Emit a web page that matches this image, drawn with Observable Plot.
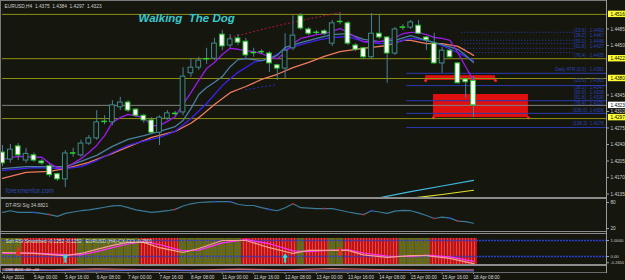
<!DOCTYPE html>
<html><head><meta charset="utf-8">
<script src="https://cdn.jsdelivr.net/npm/d3@7"></script>
<script src="https://cdn.jsdelivr.net/npm/@observablehq/plot@0.6"></script>
<style>
html,body{margin:0;padding:0;background:#15170f;overflow:hidden}
#wrap{position:relative;width:625px;height:280px;overflow:hidden;background:#15170f}
#wrap svg{position:absolute;left:0;overflow:visible}
.sep{position:absolute;background:#8c8c8c}
</style></head><body><div id="wrap"></div>
<script>
// ---------------- DATA ----------------
const symbolTitle = "EURUSD,H4  1.4375  1.4384  1.4297  1.4323";
const chartTitle = "Walking  The Dog";
const watermark = "forexmentor.com";
const openP  = [1.4223,1.4208,1.4236,1.4206,1.4217,1.4204,1.4194,1.4177,1.4166,1.4221,1.4217,1.4242,1.4253,1.4287,1.4287,1.4319,1.4329,1.4314,1.4301,1.4291,1.4265,1.4295,1.4305,1.4308,1.4391,1.4403,1.4420,1.4422,1.4473,1.4450,1.4465,1.4458,1.4433,1.4435,1.4433,1.4408,1.4401,1.4444,1.4512,1.4484,1.4477,1.4480,1.4454,1.4499,1.4497,1.4450,1.4444,1.4425,1.4475,1.4467,1.4433,1.4488,1.4488,1.4492,1.4467,1.4454,1.4412,1.4439,1.4412,1.4378,1.4375];
const highP  = [1.4238,1.4240,1.4242,1.4232,1.4222,1.4208,1.4198,1.4179,1.4227,1.4232,1.4249,1.4259,1.4312,1.4301,1.4333,1.4340,1.4333,1.4316,1.4304,1.4297,1.4301,1.4312,1.4310,1.4403,1.4422,1.4425,1.4444,1.4465,1.4482,1.4473,1.4473,1.4465,1.4444,1.4441,1.4437,1.4410,1.4475,1.4513,1.4518,1.4488,1.4482,1.4484,1.4503,1.4518,1.4501,1.4454,1.4446,1.4518,1.4514,1.4469,1.4488,1.4494,1.4503,1.4503,1.4469,1.4476,1.4446,1.4442,1.4414,1.4380,1.4384];
const lowP   = [1.4193,1.4200,1.4206,1.4200,1.4202,1.4196,1.4170,1.4162,1.4149,1.4213,1.4213,1.4238,1.4249,1.4282,1.4280,1.4312,1.4308,1.4297,1.4285,1.4263,1.4238,1.4291,1.4300,1.4301,1.4382,1.4397,1.4410,1.4418,1.4439,1.4444,1.4450,1.4422,1.4425,1.4431,1.4393,1.4376,1.4380,1.4439,1.4482,1.4471,1.4473,1.4471,1.4448,1.4494,1.4450,1.4437,1.4420,1.4420,1.4463,1.4370,1.4429,1.4482,1.4484,1.4473,1.4439,1.4410,1.4391,1.4423,1.4368,1.4338,1.4297];
const closeP = [1.4200,1.4229,1.4217,1.4220,1.4206,1.4200,1.4175,1.4166,1.4221,1.4222,1.4242,1.4253,1.4287,1.4289,1.4323,1.4329,1.4312,1.4301,1.4291,1.4265,1.4297,1.4306,1.4306,1.4384,1.4403,1.4418,1.4422,1.4454,1.4448,1.4463,1.4456,1.4429,1.4435,1.4437,1.4412,1.4401,1.4439,1.4471,1.4486,1.4475,1.4478,1.4475,1.4497,1.4501,1.4454,1.4441,1.4425,1.4475,1.4467,1.4433,1.4484,1.4489,1.4499,1.4475,1.4461,1.4412,1.4439,1.4425,1.4370,1.4372,1.4323];

const emaFast = [1.4208,1.4212,1.4215,1.4214,1.4213,1.4213,1.4200,1.4191,1.4189,1.4200,1.4210,1.4223,1.4238,1.4259,1.4287,1.4297,1.4304,1.4301,1.4297,1.4280,1.4280,1.4289,1.4299,1.4325,1.4350,1.4376,1.4401,1.4414,1.4431,1.4444,1.4442,1.4439,1.4437,1.4433,1.4425,1.4422,1.4435,1.4454,1.4465,1.4469,1.4473,1.4475,1.4480,1.4486,1.4478,1.4467,1.4458,1.4458,1.4458,1.4461,1.4467,1.4475,1.4478,1.4478,1.4473,1.4467,1.4465,1.4461,1.4435,1.4405,1.4376];
const emaSteelBars = [0,3,6,8,10,12,14,16,18,20,22,23,24,25,26,27,28,29,30,31,32,33,34,35,36,38,40,42,44,46,48,50,52,54,56,58,59,60];
const emaSteelVals = [1.4189,1.4193,1.4193,1.4193,1.4204,1.4217,1.4236,1.4251,1.4259,1.4268,1.4278,1.4291,1.4316,1.4346,1.4361,1.4372,1.4384,1.4405,1.4420,1.4422,1.4420,1.4418,1.4422,1.4429,1.4446,1.4456,1.4465,1.4473,1.4475,1.4463,1.4458,1.4461,1.4471,1.4461,1.4452,1.4442,1.4429,1.4414];
const emaBlueBars = [0,4,8,10,12,14,16,18,20,22,24,26,28,30,32,34,36,38,40,42,44,46,48,50,52,54,56,58,60];
const emaBlueVals = [1.4185,1.4191,1.4189,1.4193,1.4206,1.4223,1.4238,1.4247,1.4255,1.4268,1.4295,1.4327,1.4365,1.4393,1.4414,1.4422,1.4442,1.4452,1.4461,1.4467,1.4469,1.4458,1.4454,1.4456,1.4465,1.4461,1.4450,1.4435,1.4418];
const emaSlowBars = [0,3,6,8,11,14,17,19,22,24,25,27,29,31,33,35,37,39,41,43,45,47,49,51,52,54,56,58,59,60];
const emaSlowVals = [1.4168,1.4181,1.4183,1.4189,1.4202,1.4221,1.4242,1.4255,1.4268,1.4285,1.4297,1.4325,1.4350,1.4363,1.4378,1.4389,1.4403,1.4414,1.4427,1.4437,1.4442,1.4446,1.4450,1.4461,1.4461,1.4454,1.4454,1.4448,1.4439,1.4429];
const ema200Bars = [48,52,56,60];
const ema200Vals = [1.4127,1.4140,1.4152,1.4164];
const ema365Bars = [52,56,60];
const ema365Vals = [1.4126,1.4134,1.4143];
const envBars = [29,34,38,43];
const envVals = [1.4467,1.4488,1.4503,1.4520];
const lowDotBars = [31,33,35];
const lowDotVals = [1.4356,1.4362,1.4367];

const pivotLevels = [1.4516,1.4422,1.4380,1.4295];
const pivotDashed = [true,true,false,false];
const bidPrice = 1.4323;
const fibDotLevels = [1.4478,1.4461,1.4454,1.4444,1.4435];
const fibSolidLevels = [1.4391,1.4365,1.4333,1.4306,1.4276];
const fibLabelLevels = [1.4478,1.4467,1.4454,1.4444,1.4425,1.4395,1.4372,1.4357,1.4347,1.4335,1.4323,1.4308,1.4280];
const fibLabelText = ["(23.6)   1.4493","(38.2)   1.4467","(50.0)   1.4448","(61.8)   1.4427","(76.4)   1.4405","Daily ATR (0.0)   1.4391","(23.6)   1.4365","(38.2)   1.4347","(50.0)   1.4338","(61.8)   1.4330","(76.4)   1.4320","(100.0)  1.4306","(138.2)  1.4276"];
const zoneBars = [[53.9,62.8],[54.9,67.0]];
const zonePrices = [[1.4376,1.4386],[1.4297,1.4346]];

const priceTicks = [1.4520,1.4485,1.4450,1.4415,1.4380,1.4345,1.4310,1.4275,1.4240,1.4205,1.4170,1.4135];
const tagPrices = [1.4516,1.4422,1.4380,1.4323,1.4297];
const tagLabels = ["1.4516","1.4422","1.4380","1.4323","1.4297"];
const tagColors = ["#ffff33","#ffff33","#ffff33","#ffffff","#ffff33"];

const rsiVals = [57,61,57,57,57,55,52,48,55,58,61,63,66,69,72,73,68,63,60,57,59,61,64,72,77,80,81,82,82,82,76,73,73,68,64,61,68,77,68,67,66,66,66,62,58,55,52,61,58,55,60,62,61,56,50,43,46,44,37,36,32];
const rsiRedBars = [6,22,37,41,46,55,58];
const rsiBlueBars = [4,27,29,34,47,57];
const rsiTicks = [80,20];
const rsiLabel = "DT-RSI Sig 34.8821";

const softState = ["g","g","g","r","r","r","r","r","r","r","g","g","g","g","g","g","g","g","r","r","r","r","r","g","g","g","g","g","g","g","g","r","r","r","r","r","r","r","g","r","r","r","g","g","r","r","r","r","r","r","r","g","g","g","g","r","r","r","r","r","r"];
const softBars = [0,4,8,10,12,14,16,18,20,22,23,25,28,31,34,37,39,42,44,46,49,52,54,57,60];
const softMain = [0.25,0.19,0.06,0.19,0.45,0.70,0.88,0.88,0.55,0.35,0.25,0.50,1.00,1.00,0.55,0.19,0.38,0.38,0.38,0.10,-0.06,0.06,0.06,-0.12,-0.44];
const softSig  = [0.20,0.22,0.12,0.10,0.30,0.55,0.78,0.92,0.75,0.48,0.36,0.40,0.85,1.05,0.80,0.35,0.30,0.40,0.42,0.22,0.02,0.00,0.08,-0.02,-0.30];
const softTicksUpper = [1,0];
const softTickLabelsUpper = ["1.0000","0.00"];
const softTicksLower = [-0.265];
const softTickLabelsLower = ["-0.2650"];
const upArrowBars = [8,36];
const downArrowBars = [2,43];
const softLabel = "Soft RSI Smoothed -0.1252 -0.1252   EURUSD (H4)-CX-CCI -0.2501";

const stripBars = [0,6,12,18,24,30,36,42,48,54,60];
const stripA = [0.55,0.45,0.60,0.50,0.40,0.55,0.45,0.65,0.50,0.40,0.45];
const stripB = [0.30,0.35,0.25,0.40,0.30,0.20,0.35,0.25,0.30,0.35,0.25];
const stripLabel = "DMI  ADX  -DI  +DI";

const timeTicks = [0,4,8,12,16,20,24,28,32,36,40,44,48,52,56,60];
const timeLabels = ["4 Apr 2011","5 Apr 00:00","5 Apr 16:00","6 Apr 08:00","7 Apr 00:00","7 Apr 16:00","8 Apr 08:00","11 Apr 00:00","11 Apr 16:00","12 Apr 08:00","13 Apr 00:00","13 Apr 16:00","14 Apr 08:00","15 Apr 00:00","15 Apr 16:00","18 Apr 08:00"];

// ---------------- LAYOUT ----------------
const BG = "#15170f";
const xDomain = [0, 76.94];
const ML = 2, MR = 19, W = 625;
const FONT = "'Liberation Sans', Arial, sans-serif";
const AX = 4.7;
const wrap = document.getElementById("wrap");
function place(svg, top) { svg.style.top = top + "px"; svg.style.background = "transparent"; wrap.appendChild(svg); }
function sep(x, y, w, h, c) { const d = document.createElement("div"); d.className = "sep"; Object.assign(d.style, {left: x+"px", top: y+"px", width: w+"px", height: h+"px", background: c}); wrap.appendChild(d); }

const bars = openP.map((o, i) => ({i, o, h: highP[i], l: lowP[i], c: closeP[i]}));
const isDoji = d => Math.abs(d.c - d.o) <= 0.00021;
const bull = bars.filter(d => !isDoji(d) && d.c > d.o);
const bear = bars.filter(d => !isDoji(d) && d.c < d.o);
const doji = bars.filter(isDoji);
const pts = (xs, ys) => xs.map((x, k) => ({x, y: ys[k]}));
const xEnd = xDomain[1];
// price labels hidden behind a highlighted tag are not drawn (as in the terminal)
const visibleTicks = priceTicks.filter(t => tagPrices.every(p => Math.abs(p - t) > 0.0009));

// main panel
const mainY = [1.41276, 1.45412];
const main = Plot.plot({
  width: W, height: 197, marginTop: 2, marginBottom: 0, marginLeft: ML, marginRight: MR,
  x: {domain: xDomain, axis: null, label: null},
  y: {domain: mainY, axis: null, label: null},
  style: {background: "transparent", fontFamily: FONT, fontSize: "5px", color: "#d0d0d0"},
  marks: [
    Plot.rect(zoneBars, {x1: d => d[0], x2: d => d[1], y1: (d, k) => zonePrices[k][0], y2: (d, k) => zonePrices[k][1], fill: "#e01010"}),
    Plot.dot(zoneBars.flatMap((d, k) => [{x: d[0], y: zonePrices[k][0]}, {x: d[1], y: zonePrices[k][0]}]), {x: "x", y: "y", r: 1.5, fill: "#ff2020"}),
    Plot.ruleY(pivotLevels, {y: d => d, stroke: "#8f8f14", strokeWidth: 1, strokeDasharray: (d, k) => pivotDashed[k] ? "2,1" : null}),
    Plot.ruleY([bidPrice], {y: d => d, stroke: "#808080"}),
    Plot.ruleY(fibSolidLevels, {y: d => d, x1: 51.5, x2: xEnd, stroke: "#2a3ab0"}),
    Plot.ruleY(fibDotLevels, {y: d => d, x1: 58.5, x2: 73, stroke: "#2a3ab0", strokeDasharray: "1,2"}),
    Plot.text(fibLabelLevels, {y: d => d, x: 76.6, text: (d, k) => fibLabelText[k], textAnchor: "end", fill: "#2a40b8", fontSize: 4.6, dy: -2}),
    Plot.line(pts(ema200Bars, ema200Vals), {x: "x", y: "y", stroke: "#40b8e0", strokeWidth: 1.2, clip: true}),
    Plot.line(pts(ema365Bars, ema365Vals), {x: "x", y: "y", stroke: "#e0e030", strokeWidth: 1.2, clip: true}),
    Plot.line(pts(emaSlowBars, emaSlowVals), {x: "x", y: "y", stroke: "#f07a60", strokeWidth: 1.3}),
    Plot.line(pts(emaBlueBars, emaBlueVals), {x: "x", y: "y", stroke: "#3b22ee", strokeWidth: 1.3}),
    Plot.line(pts(emaSteelBars, emaSteelVals), {x: "x", y: "y", stroke: "#4a7fa0", strokeWidth: 1.3}),
    Plot.line(emaFast.map((v, i) => ({x: i, y: v})), {x: "x", y: "y", stroke: "#9a1ae8", strokeWidth: 1.3}),
    Plot.line(pts(envBars, envVals), {x: "x", y: "y", stroke: "#c01040", strokeWidth: 1, strokeDasharray: "1,3"}),
    Plot.line(pts(lowDotBars, lowDotVals), {x: "x", y: "y", stroke: "#2a2ad0", strokeWidth: 1, strokeDasharray: "1,3"}),
    Plot.ruleX(bars, {x: "i", y1: "l", y2: "h", stroke: "#4f7e9a"}),
    Plot.rect(bull, {x1: d => d.i - 0.3, x2: d => d.i + 0.3, y1: "o", y2: "c", fill: BG, stroke: "#3f8a8a"}),
    Plot.rect(bear, {x1: d => d.i - 0.3, x2: d => d.i + 0.3, y1: "o", y2: "c", fill: "#ffffff", stroke: "#22c022"}),
    Plot.ruleY(doji, {x1: d => d.i - 0.35, x2: d => d.i + 0.35, y: "c", stroke: "#22dd22", strokeWidth: 1.5}),
    Plot.axisY(visibleTicks, {anchor: "right", label: null, tickSize: 2, tickPadding: 2, tickFormat: d3.format(".4f"), fill: "#d0d0d0", stroke: "#a0a0a0", fontSize: AX}),
    Plot.rect(tagPrices, {x1: xEnd + 0.25, x2: xEnd + 2.5, y1: d => d - 0.00068, y2: d => d + 0.00068, fill: (d, k) => tagColors[k], clip: false}),
    Plot.text(tagPrices, {x: xEnd, y: d => d, text: (d, k) => tagLabels[k], dx: 4, textAnchor: "start", fill: "#000", fontSize: AX}),
    Plot.text([symbolTitle], {frameAnchor: "top-left", dx: 2, dy: 2, fill: "#d0d0d0", fontSize: 4.8}),
    Plot.text([chartTitle], {frameAnchor: "top-left", dx: 136, dy: 11, fill: "#38c8d0", fontSize: 11.5, fontWeight: "bold", fontStyle: "italic"}),
    Plot.text([watermark], {frameAnchor: "bottom-left", dx: 3, dy: -5, fill: "#2a48b0", fontSize: 6.5})
  ]
});
place(main, 0);

// RSI panel
const rsiPanel = Plot.plot({
  width: W, height: 31, marginTop: 0, marginBottom: 0, marginLeft: ML, marginRight: MR,
  x: {domain: xDomain, axis: null, label: null},
  y: {domain: [13.0, 84.6], axis: null, label: null},
  style: {background: "transparent", fontFamily: FONT, fontSize: "5px", color: "#d0d0d0"},
  marks: [
    Plot.line(rsiVals.map((v, i) => ({x: i, y: v})), {x: "x", y: "y", stroke: "#3a7a98", strokeWidth: 1.2}),
    Plot.dot(rsiRedBars, {x: d => d, y: d => rsiVals[d], r: 1, fill: "#e01010"}),
    Plot.dot(rsiBlueBars, {x: d => d, y: d => rsiVals[d], r: 1, fill: "#3030ff"}),
    Plot.axisY(rsiTicks, {anchor: "right", label: null, tickSize: 2, tickPadding: 2, fill: "#d0d0d0", stroke: "#a0a0a0", fontSize: AX}),
    Plot.text([rsiLabel], {frameAnchor: "top-left", dx: 3, dy: 3, fill: "#c8c8c8", fontSize: 4.8})
  ]
});
place(rsiPanel, 200);

// Soft RSI panel
const softY = [-0.5625, 1.375];
const defs = () => {
  const s = d3.create("svg:defs");
  const r = s.append("pattern").attr("id", "redPat").attr("width", 3).attr("height", 3).attr("patternUnits", "userSpaceOnUse");
  r.append("rect").attr("width", 3).attr("height", 3).attr("fill", "#c41212");
  r.append("rect").attr("width", 1).attr("height", 3).attr("fill", "#e24848");
  const g = s.append("pattern").attr("id", "olivePat").attr("width", 3).attr("height", 3).attr("patternUnits", "userSpaceOnUse");
  g.append("rect").attr("width", 3).attr("height", 3).attr("fill", "#6a6a12");
  g.append("rect").attr("width", 1).attr("height", 1).attr("fill", "#3a5a8a");
  return s.node();
};
const softPanel = Plot.plot({
  width: W, height: 31, marginTop: 0, marginBottom: 0, marginLeft: ML, marginRight: MR,
  x: {domain: xDomain, axis: null, label: null},
  y: {domain: softY, axis: null, label: null},
  style: {background: "transparent", fontFamily: FONT, fontSize: "5px", color: "#d0d0d0"},
  marks: [
    defs,
    Plot.rect(softState, {x1: (d, i) => i - 0.5, x2: (d, i) => i + 0.5, y1: softY[0] + 0.06, y2: softY[1] - 0.25, fill: d => d === "r" ? "url(#redPat)" : "url(#olivePat)"}),
    Plot.ruleY([1, 0], {y: d => d, stroke: "#2d3fd0", strokeWidth: 1.5, strokeDasharray: "2,1"}),
    Plot.line(pts(softBars, softSig), {x: "x", y: "y", stroke: "#ff30ff", strokeWidth: 1.2}),
    Plot.line(pts(softBars, softMain), {x: "x", y: "y", stroke: "#f4a090", strokeWidth: 1.2}),
    Plot.arrow(upArrowBars, {x1: d => d, x2: d => d, y1: -0.35, y2: 0.1, stroke: "#30e0d0", strokeWidth: 2, headLength: 5}),
    Plot.arrow(downArrowBars, {x1: d => d, x2: d => d, y1: 0.55, y2: 0.1, stroke: "#ff2020", strokeWidth: 2, headLength: 5}),
    Plot.axisY(softTicksUpper, {anchor: "right", label: null, tickSize: 2, tickPadding: 2, tickFormat: (d, k) => softTickLabelsUpper[k], fill: "#d0d0d0", stroke: "#a0a0a0", fontSize: 4.2}),
    Plot.axisY(softTicksLower, {anchor: "right", label: null, tickSize: 2, tickPadding: 2, dy: 2, tickFormat: (d, k) => softTickLabelsLower[k], fill: "#d0d0d0", stroke: "#a0a0a0", fontSize: 4}),
    Plot.text([softLabel], {frameAnchor: "top-left", dx: 3, dy: 5, fill: "#c8e8c8", fontSize: 4.8})
  ]
});
place(softPanel, 234);

// bottom strip + time axis
const stripPanel = Plot.plot({
  width: W, height: 14, marginTop: 0, marginBottom: 8, marginLeft: ML, marginRight: MR,
  x: {domain: xDomain, axis: null, label: null},
  y: {domain: [0, 1], axis: null, label: null},
  style: {background: "transparent", fontFamily: FONT, fontSize: "4.6px", color: "#d0d0d0"},
  marks: [
    Plot.line(pts(stripBars, stripA), {x: "x", y: "y", stroke: "#d07070", strokeWidth: 1.2}),
    Plot.line(pts(stripBars, stripB), {x: "x", y: "y", stroke: "#6070e0", strokeWidth: 1}),
    Plot.text([stripLabel], {frameAnchor: "left", dx: 3, fill: "#e0e0e0", fontSize: 4}),
    Plot.axisX(timeTicks, {anchor: "bottom", label: null, tickSize: 2, tickPadding: 1, textAnchor: "start", tickFormat: (d, k) => timeLabels[k], fill: "#d8d8d8", stroke: "#a0a0a0", fontSize: 4.6})
  ]
});
place(stripPanel, 266);

// frame lines
sep(0, 0, 607, 1, "#7a7a7a");
sep(0, 0, 1, 272, "#7a7a7a");
sep(0, 197, 607, 2, "#8c8c8c");
sep(0, 231, 607, 1, "#8c8c8c");
sep(0, 233, 607, 1, "#8c8c8c");
sep(0, 264, 607, 2, "#8c8c8c");
sep(0, 272, 607, 1, "#6a6a6a");
sep(606, 0, 1, 273, "#9a9a9a");
</script></body></html>
